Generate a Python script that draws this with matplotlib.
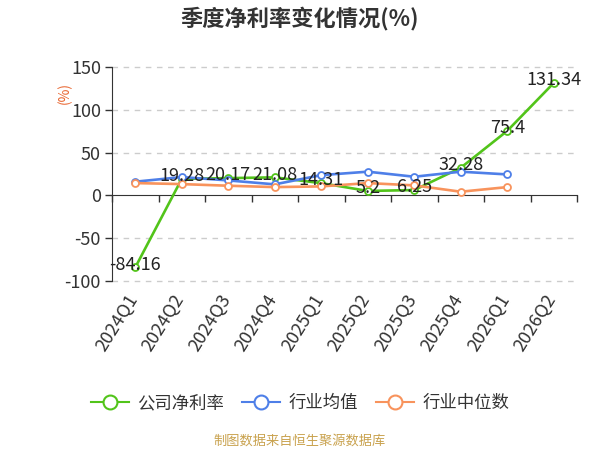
import matplotlib
matplotlib.use('Agg')
import matplotlib.pyplot as plt
from matplotlib.lines import Line2D
from matplotlib.ticker import FixedLocator, NullFormatter

plt.rcParams['font.family'] = ['Noto Sans CJK SC', 'DejaVu Sans']

quarters = ['2024Q1', '2024Q2', '2024Q3', '2024Q4', '2025Q1',
            '2025Q2', '2025Q3', '2025Q4', '2026Q1', '2026Q2']
company = [-84.16, 19.28, 20.17, 21.08, 14.31, 5.2, 6.25, 32.28, 75.4, 131.34]
ind_mean = [16.0, 21.4, 17.5, 12.9, 23.7, 27.7, 21.8, 27.7, 24.5]
ind_median = [14.4, 13.2, 11.3, 9.7, 10.5, 14.4, 11.7, 4.3, 9.7]
yticks = [-100, -50, 0, 50, 100, 150]
names = ['公司净利率', '行业均值', '行业中位数']
colors = ['#52c41a', '#4e7fe8', '#f8935c']
title = '季度净利率变化情况(%)'
source = '制图数据来自恒生聚源数据库'

W, H = 600, 450
fig = plt.figure(figsize=(6, 4.5), dpi=100)
ax = fig.add_axes([112 / W, 1 - 281 / H, 465 / W, 214 / H])

n = len(quarters)
xs = list(range(n))
series = [company, ind_mean, ind_median]
for i, (vals, c) in enumerate(zip(series, colors)):
    ax.plot(xs[:len(vals)], vals, color=c, lw=1.9, marker='o', ms=5,
            mfc='white', mec=c, mew=1.3, zorder=3 + i, clip_on=False)

for x, v in zip(xs, company):
    ax.annotate(f'{v:g}', (x, v), xytext=(0, 2), textcoords='offset points',
                ha='center', va='center', fontsize=13, color='#222222', zorder=10)

ax.set_xlim(-0.5, n - 0.5)
ax.set_ylim(min(yticks), max(yticks))
ax.set_yticks(yticks)
ax.set_yticklabels([str(t) for t in yticks])
ax.tick_params(axis='y', length=5, width=1, color='#333333', labelsize=13,
               labelcolor='#333333', pad=3)

for t in yticks:
    if t != 0:
        ax.axhline(t, color='#cccccc', lw=1, ls=(0, (4, 4)), zorder=1,
                   clip_on=False)

for s in ['top', 'right']:
    ax.spines[s].set_visible(False)
ax.spines['left'].set_color('#333333')
ax.spines['left'].set_zorder(2)
ax.spines['bottom'].set_position(('data', 0))
ax.spines['bottom'].set_color('#333333')
ax.set_xticks([])
ax.xaxis.set_minor_locator(FixedLocator([i - 0.5 for i in range(n + 1)]))
ax.xaxis.set_minor_formatter(NullFormatter())
ax.tick_params(axis='x', which='minor', length=5, width=1, color='#333333')

for x, q in zip(xs, quarters):
    ax.annotate(q, (x, 0), xycoords=('data', 'axes fraction'),
                xytext=(-1, -11), textcoords='offset points',
                ha='right', va='center', rotation=58, rotation_mode='anchor',
                fontsize=13, color='#333333', annotation_clip=False)

fig.text(65 / W, 1 - 93 / H, '(%)', rotation=90, ha='center', va='center',
         fontsize=10, color='#e8642e')
fig.text(0.5, 1 - 18 / H, title, ha='center', va='center', fontsize=16,
         fontweight='bold', color='#333333')

handles = [Line2D([0], [0], color=c, lw=1.5, marker='o', ms=10, mfc='white',
                  mec=c, mew=1.5) for c in colors]
fig.legend(handles, names, loc='center', bbox_to_anchor=(0.5, 1 - 403 / H),
           ncol=3, frameon=False, fontsize=12.5, handlelength=2.2,
           handletextpad=0.5, columnspacing=1.0, labelcolor='#333333')

fig.text(0.5, 1 - 441 / H, source, ha='center', va='center', fontsize=9.5,
         color='#c9a24e')

fig.savefig('out.png', dpi=100)
